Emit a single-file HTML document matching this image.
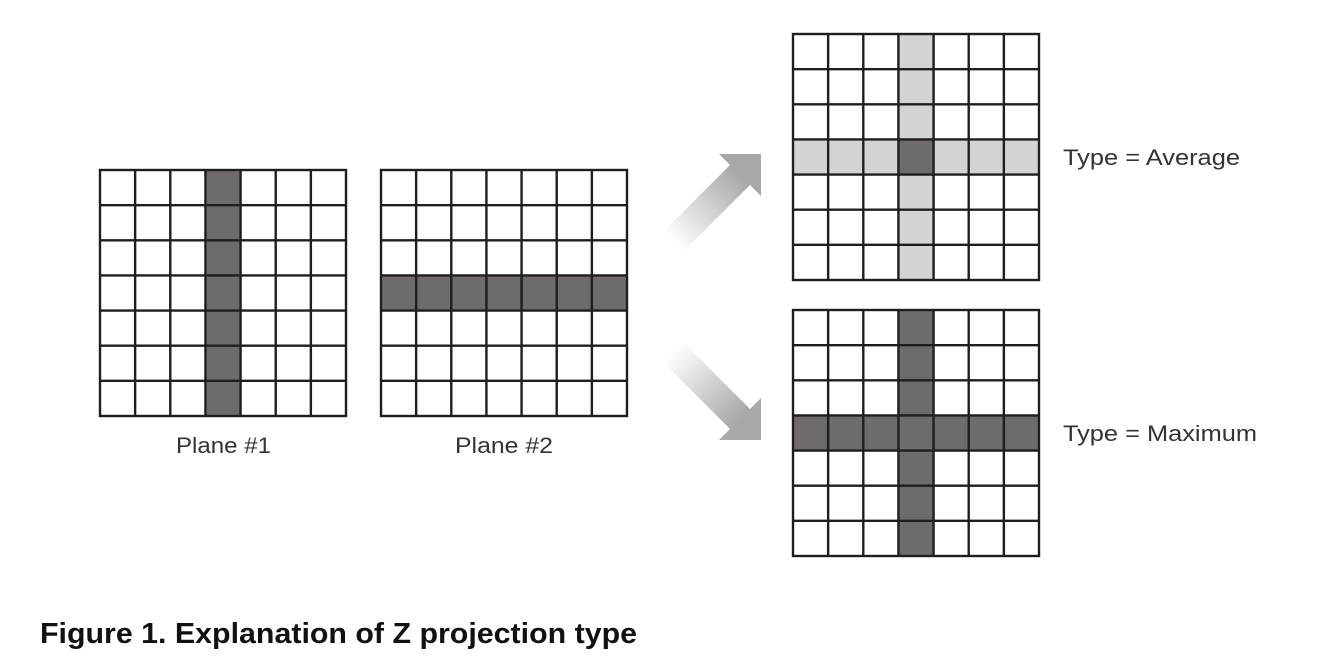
<!DOCTYPE html>
<html><head><meta charset="utf-8"><style>
html,body{margin:0;padding:0;background:#fff;}
svg{display:block;}
</style></head><body>
<svg width="1317" height="672" viewBox="0 0 1317 672" xmlns="http://www.w3.org/2000/svg">
<defs>
<g id="grid" stroke="#1e1e1e" stroke-width="2.4" fill="none">
<rect x="0" y="0" width="246" height="246"/>
<line x1="35.14" y1="0" x2="35.14" y2="246"/>
<line x1="70.29" y1="0" x2="70.29" y2="246"/>
<line x1="105.43" y1="0" x2="105.43" y2="246"/>
<line x1="140.57" y1="0" x2="140.57" y2="246"/>
<line x1="175.71" y1="0" x2="175.71" y2="246"/>
<line x1="210.86" y1="0" x2="210.86" y2="246"/>
<line y1="35.14" x1="0" y2="35.14" x2="246"/>
<line y1="70.29" x1="0" y2="70.29" x2="246"/>
<line y1="105.43" x1="0" y2="105.43" x2="246"/>
<line y1="140.57" x1="0" y2="140.57" x2="246"/>
<line y1="175.71" x1="0" y2="175.71" x2="246"/>
<line y1="210.86" x1="0" y2="210.86" x2="246"/>
</g>
<linearGradient id="gu" gradientUnits="userSpaceOnUse" x1="673" y1="242" x2="740" y2="175">
<stop offset="0" stop-color="#fff"/><stop offset="1" stop-color="#a8a8a8"/>
</linearGradient>
<linearGradient id="gd" gradientUnits="userSpaceOnUse" x1="673" y1="352" x2="740" y2="419">
<stop offset="0" stop-color="#fff"/><stop offset="1" stop-color="#a8a8a8"/>
</linearGradient>
</defs>

<g transform="translate(100,170)">
<rect x="105.43" y="0" width="35.14" height="246" fill="#6f6b6b"/>
<use href="#grid"/>
</g>
<g transform="translate(381,170)">
<rect x="0" y="105.43" width="246" height="35.14" fill="#6f6b6b"/>
<use href="#grid"/>
</g>
<g transform="translate(793,34)">
<rect x="105.43" y="0" width="35.14" height="246" fill="#d3d3d3"/>
<rect x="0" y="105.43" width="246" height="35.14" fill="#d3d3d3"/>
<rect x="105.43" y="105.43" width="35.14" height="35.14" fill="#6f6b6b"/>
<use href="#grid"/>
</g>
<g transform="translate(793,310)">
<rect x="105.43" y="0" width="35.14" height="246" fill="#6f6b6b"/>
<rect x="0" y="105.43" width="246" height="35.14" fill="#6f6b6b"/>
<use href="#grid"/>
</g>

<polygon fill="url(#gu)" points="663,232 730,165 719,154 761,154 761,196 750,185 683,252"/>
<polygon fill="url(#gd)" points="663,362 730,429 719,440 761,440 761,398 750,409 683,342"/>

<g font-family="Liberation Sans, sans-serif" fill="#333" font-size="22">
<text x="176" y="453" textLength="95" lengthAdjust="spacingAndGlyphs">Plane #1</text>
<text x="455" y="453" textLength="98" lengthAdjust="spacingAndGlyphs">Plane #2</text>
<text x="1063" y="165" textLength="177" lengthAdjust="spacingAndGlyphs">Type = Average</text>
<text x="1063" y="441" textLength="194" lengthAdjust="spacingAndGlyphs">Type = Maximum</text>
</g>
<text x="40" y="643" font-family="Liberation Sans, sans-serif" font-weight="bold" font-size="29" fill="#111" textLength="597" lengthAdjust="spacingAndGlyphs">Figure 1. Explanation of Z projection type</text>
</svg>
</body></html>
